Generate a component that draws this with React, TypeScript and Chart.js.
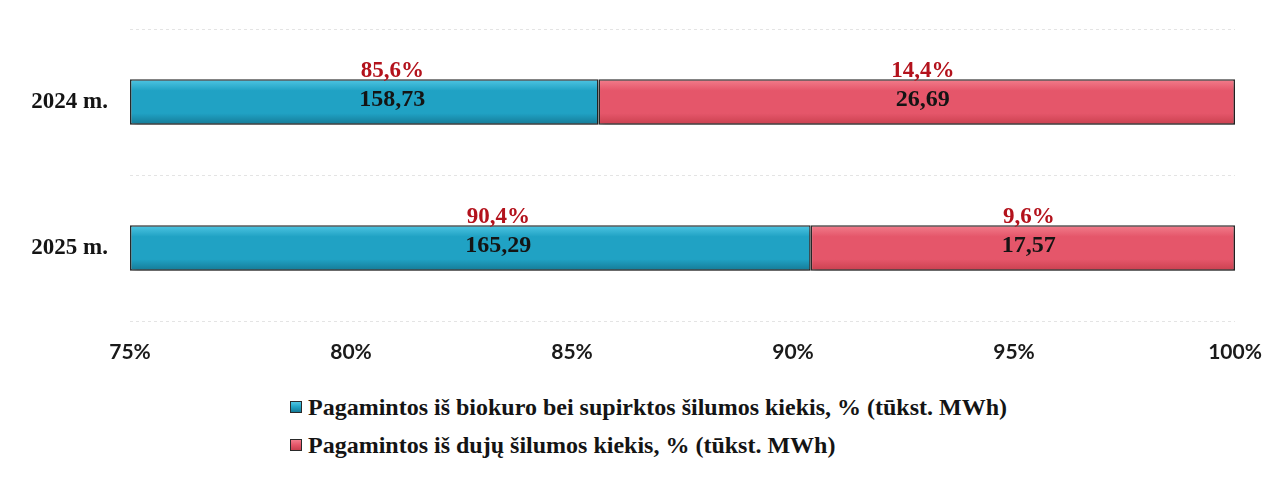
import React, { useEffect, useRef } from "react";
import { Chart, registerables } from "chart.js";

Chart.register(...registerables);

const categories = ["2024 m.", "2025 m."];
const bioPercent = [85.6, 90.4];
const gasPercent = [14.4, 9.6];
const bioValues = [158.73, 165.29];
const gasValues = [26.69, 17.57];
const seriesNames = [
  "Pagamintos iš biokuro bei supirktos šilumos kiekis, % (tūkst. MWh)",
  "Pagamintos iš dujų šilumos kiekis, % (tūkst. MWh)",
];
const X_MIN = 75;
const X_MAX = 100;
const X_STEP = 5;

const BAR_PCT = 0.31;
const palettes = [
  { top: "#4fc6e3", mid: "#20a2c4", bot: "#157a96", flat: "#20a2c4" },
  { top: "#f27d8c", mid: "#e5566a", bot: "#c9404f", flat: "#e5566a" },
];
const labelDx = [28, 6];

const serif = "'Liberation Serif', 'Times New Roman', serif";

function gradientFor(dsIndex: number) {
  return (c: any) => {
    const p = palettes[dsIndex];
    const chart = c.chart;
    const ys = chart.scales && chart.scales.y;
    if (!ys || c.type !== "data" || !chart.chartArea) return p.flat;
    const yc = ys.getPixelForValue(c.dataIndex);
    const h = ((ys.bottom - ys.top) / categories.length) * BAR_PCT / 2;
    const g = chart.ctx.createLinearGradient(0, yc - h, 0, yc + h);
    g.addColorStop(0, p.top);
    g.addColorStop(0.25, p.mid);
    g.addColorStop(0.75, p.mid);
    g.addColorStop(1, p.bot);
    return g;
  };
}

const shadowPlugin = {
  id: "barShadow",
  beforeDatasetsDraw(chart: any) {
    const ctx = chart.ctx;
    ctx.save();
    ctx.shadowColor = "rgba(0,0,0,0.32)";
    ctx.shadowBlur = 6;
    ctx.shadowOffsetX = 2;
    ctx.shadowOffsetY = 4;
  },
  afterDatasetsDraw(chart: any) {
    chart.ctx.restore();
  },
};

const labelPlugin = {
  id: "barLabels",
  afterDraw(chart: any) {
    const ctx = chart.ctx;
    const left = chart.chartArea.left;
    const pcts = [bioPercent, gasPercent];
    const vals = [bioValues, gasValues];
    ctx.save();
    ctx.textAlign = "center";
    ctx.textBaseline = "middle";
    chart.data.datasets.forEach((_: any, di: number) => {
      const meta = chart.getDatasetMeta(di);
      meta.data.forEach((el: any, i: number) => {
        const a = Math.max(Math.min(el.x, el.base), left);
        const b = Math.max(el.x, el.base);
        const cx = (a + b) / 2 + labelDx[di];
        ctx.font = `bold 23px ${serif}`;
        ctx.fillStyle = "#b3121c";
        ctx.fillText(pcts[di][i].toFixed(1).replace(".", ",") + "%", cx, el.y - 31);
        ctx.fillStyle = "#141414";
        ctx.font = `bold 24px ${serif}`;
        ctx.fillText(vals[di][i].toFixed(2).replace(".", ","), cx, el.y - 2);
      });
    });
    ctx.restore();
  },
};

export default function App() {
  const ref = useRef<HTMLCanvasElement | null>(null);

  useEffect(() => {
    if (!ref.current) return;
    const bioBars = bioPercent.map((v) => [X_MIN, v]);
    const gasBars = bioPercent.map((v, i) => [v, v + gasPercent[i]]);
    const chart = new Chart(ref.current, {
      type: "bar",
      data: {
        labels: categories,
        datasets: [
          {
            label: seriesNames[0],
            data: bioBars as any,
            backgroundColor: gradientFor(0) as any,
            borderColor: "#2a2a2a",
            borderWidth: 1.5,
            borderSkipped: false,
            barPercentage: BAR_PCT,
            categoryPercentage: 1,
            grouped: false,
          },
          {
            label: seriesNames[1],
            data: gasBars as any,
            backgroundColor: gradientFor(1) as any,
            borderColor: "#2a2a2a",
            borderWidth: 1.5,
            borderSkipped: false,
            barPercentage: BAR_PCT,
            categoryPercentage: 1,
            grouped: false,
          },
        ],
      },
      options: {
        indexAxis: "y",
        animation: false,
        responsive: true,
        maintainAspectRatio: false,
        layout: { padding: { top: 21, bottom: 7, left: 0, right: 41 } },
        plugins: {
          legend: { display: false },
          tooltip: { enabled: false },
        },
        scales: {
          x: {
            min: X_MIN,
            max: X_MAX,
            ticks: {
              stepSize: X_STEP,
              callback: (v: any) => `${v}%`,
              color: "#1a1a1a",
              font: { family: "Lato", weight: "bold", size: 21 },
              padding: 19,
              maxRotation: 0,
            },
            grid: { display: false, drawTicks: false },
            border: { display: false },
            afterFit: (s: any) => {
              s.height = 60;
              s.paddingLeft = 0;
              s.paddingRight = 0;
            },
          },
          y: {
            ticks: {
              color: "#141414",
              font: { family: "Liberation Serif", weight: "bold", size: 23 },
              padding: 22,
            },
            grid: {
              color: "#e4e4e4",
              lineWidth: 1,
              drawTicks: false,
            },
            border: { display: false, dash: [3, 3] },
            afterFit: (s: any) => {
              s.width = 122;
              s.paddingTop = 0;
              s.paddingBottom = 0;
            },
          },
        },
      },
      plugins: [shadowPlugin, labelPlugin],
    });
    return () => chart.destroy();
  }, []);

  const legendRow = (i: number) => {
    const p = palettes[i];
    return (
      <div
        key={i}
        style={{
          display: "flex",
          alignItems: "center",
          height: 38,
          paddingLeft: 282,
          fontFamily: serif,
          fontWeight: "bold",
          fontSize: 24,
          color: "#141414",
          whiteSpace: "nowrap",
        }}
      >
        <span
          style={{
            display: "inline-block",
            width: 10,
            height: 10,
            border: "1.5px solid #2a2a2a",
            background: `linear-gradient(${p.top}, ${p.mid}, ${p.bot})`,
            marginRight: 6,
          }}
        />
        <span>{seriesNames[i]}</span>
      </div>
    );
  };

  return (
    <div style={{ width: 1268, background: "#fff" }}>
      <div style={{ position: "relative", width: 1268, height: 380 }}>
        <canvas ref={ref} />
      </div>
      <div>{[0, 1].map(legendRow)}</div>
    </div>
  );
}
